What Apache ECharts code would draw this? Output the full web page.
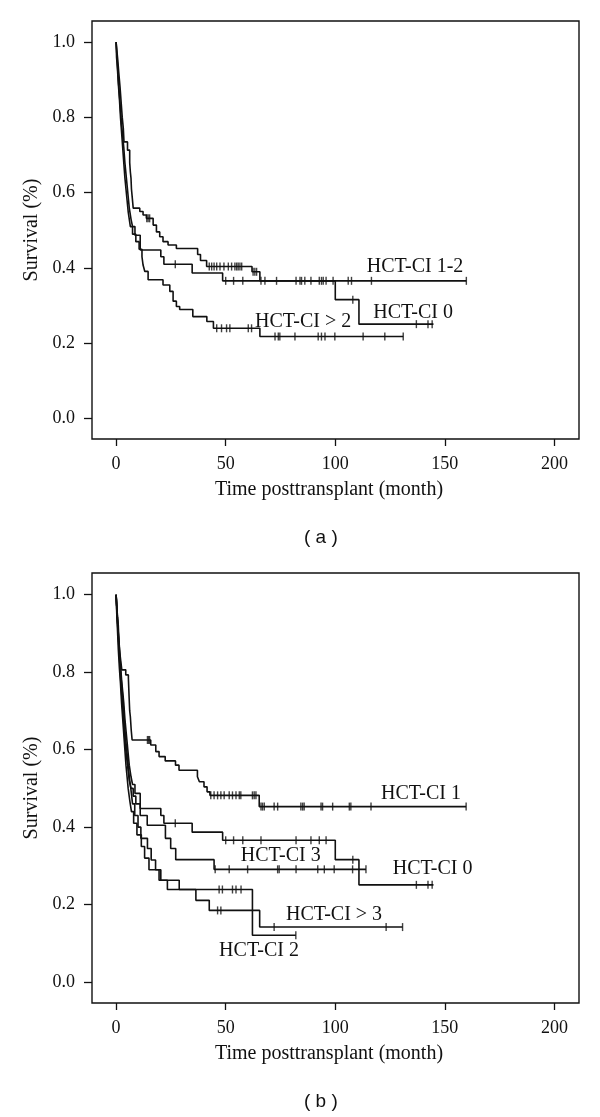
<!DOCTYPE html>
<html>
<head>
<meta charset="utf-8">
<script src="https://cdn.jsdelivr.net/npm/echarts@6/dist/echarts.min.js"></script>
<style>
html,body{margin:0;padding:0;background:#fff;}
#c{width:600px;height:1117px;}
</style>
</head>
<body>
<div id="c"></div>
<script>
// ---------- tick labels ----------
const xTicks = [0, 50, 100, 150, 200];
const yTicks = [0, 0.2, 0.4, 0.6, 0.8, 1.0];

// ---------- panel (a) ----------
// HCT-CI 1-2
const a12Time = [0, 0.3, 0.8, 1.2, 1.8, 2.3, 2.8, 3.3, 3.6, 5.2, 6.2, 6.5, 6.8, 7.0, 7.4, 7.8, 10.8, 12.3, 13.8, 16.9, 18.4, 19.9, 21.4, 23.7, 27.5, 37.2, 38.5, 41.3, 62, 65.6, 159.8];
const a12Surv = [1, 0.98, 0.95, 0.92, 0.88, 0.84, 0.80, 0.77, 0.735, 0.713, 0.68, 0.655, 0.638, 0.61, 0.585, 0.559, 0.550, 0.541, 0.532, 0.514, 0.496, 0.483, 0.470, 0.461, 0.452, 0.436, 0.42, 0.404, 0.39, 0.366, 0.366];
const a12Cens = [14.0, 14.6, 15.3, 42.5, 43.6, 44.7, 45.9, 47.4, 49.2, 51.2, 52.7, 54.2, 55, 55.7, 56.5, 57.3, 62.5, 63.3, 64.1, 67.9, 73.2, 83.9, 84.6, 86.1, 93.7, 94.5, 99, 105.9, 107.4, 116.5, 159.8];

// HCT-CI 0 (same group in both panels)
const c0Time = [0, 0.3, 0.6, 1.0, 1.5, 2.0, 2.5, 3.0, 3.5, 4.0, 4.5, 5.0, 5.5, 6.0, 6.8, 7.5, 8.6, 11.0, 20.4, 21.8, 34.7, 48.6, 100, 110.8, 144.8];
const c0Surv = [1, 0.97, 0.94, 0.90, 0.86, 0.82, 0.78, 0.75, 0.72, 0.68, 0.65, 0.62, 0.59, 0.56, 0.53, 0.51, 0.487, 0.448, 0.43, 0.41, 0.387, 0.366, 0.316, 0.251, 0.251];
const c0Cens = [27, 50, 53.6, 57.8, 66.1, 82.1, 88.9, 92.7, 95.8, 108, 137, 142.3, 144.2];

// HCT-CI > 2
const a3pTime = [0, 0.2, 0.6, 1.0, 1.5, 2.0, 2.5, 3.0, 3.5, 4.0, 4.5, 5.0, 5.5, 6.0, 6.5, 7.5, 9.0, 10.5, 11.8, 12.3, 13.1, 14.6, 21.4, 24.5, 26, 27.5, 29, 35, 41.4, 44.4, 65.6, 131];
const a3pSurv = [1, 0.96, 0.93, 0.89, 0.85, 0.80, 0.76, 0.72, 0.68, 0.64, 0.61, 0.58, 0.55, 0.53, 0.51, 0.49, 0.47, 0.45, 0.43, 0.408, 0.391, 0.369, 0.355, 0.338, 0.312, 0.298, 0.29, 0.271, 0.258, 0.24, 0.218, 0.218];
const a3pCens = [45.9, 48.1, 50.4, 51.9, 60.3, 61.8, 72.5, 74, 74.7, 81.6, 92.2, 93.7, 95.3, 99.8, 112.7, 122.6, 131];

// ---------- panel (b) ----------
// HCT-CI 1
const b1Time = [0, 0.3, 0.7, 1.0, 1.3, 1.7, 2.1, 2.6, 4.4, 5.6, 5.9, 6.2, 6.5, 6.9, 7.3, 15.8, 18.1, 19.6, 22.4, 27.1, 28.7, 37.1, 38.0, 40.1, 41.5, 42.8, 65.3, 159.7];
const b1Surv = [1, 0.97, 0.94, 0.92, 0.88, 0.85, 0.83, 0.806, 0.793, 0.785, 0.74, 0.70, 0.685, 0.65, 0.625, 0.612, 0.595, 0.582, 0.571, 0.56, 0.547, 0.530, 0.517, 0.504, 0.491, 0.482, 0.453, 0.453];
const b1Cens = [14.3, 14.8, 15.3, 43.2, 44.7, 46.3, 47.8, 49.3, 51.6, 53.1, 54.7, 56.2, 56.9, 62.2, 63, 63.8, 66.1, 66.8, 67.6, 72.1, 73.7, 84.3, 85.1, 85.8, 93.5, 94.2, 98.8, 106.4, 107.1, 116.3, 159.7];

// HCT-CI 3
const b3Time = [0, 0.3, 0.6, 1.0, 1.4, 1.8, 2.2, 2.7, 3.2, 3.7, 4.2, 4.8, 5.4, 6.0, 6.8, 7.8, 9.0, 11.0, 14.2, 22.5, 24.9, 27.2, 44.7, 114];
const b3Surv = [1, 0.97, 0.93, 0.89, 0.85, 0.81, 0.77, 0.73, 0.69, 0.65, 0.61, 0.58, 0.55, 0.52, 0.50, 0.48, 0.46, 0.43, 0.405, 0.371, 0.345, 0.316, 0.291, 0.291];
const b3Cens = [45.2, 51.6, 60, 73.7, 74.4, 82.1, 92, 95, 99.5, 107.9, 114];

// HCT-CI 2
const b2Time = [0, 0.3, 0.7, 1.0, 1.5, 2.0, 2.5, 3.0, 3.5, 4.0, 4.5, 5.0, 5.5, 6.2, 7.0, 8.0, 9.5, 11.5, 13.0, 15.0, 19.6, 23.4, 62.2, 82];
const b2Surv = [1, 0.95, 0.90, 0.86, 0.81, 0.77, 0.72, 0.68, 0.64, 0.60, 0.56, 0.53, 0.50, 0.47, 0.44, 0.41, 0.38, 0.35, 0.32, 0.29, 0.263, 0.239, 0.121, 0.121];
const b2Cens = [47, 48.5, 53.1, 54.7, 57, 82];

// HCT-CI > 3
const b4Time = [0, 0.3, 0.8, 1.2, 1.7, 2.2, 2.8, 3.3, 3.8, 4.3, 5.0, 5.5, 6.0, 6.7, 7.5, 8.5, 10.0, 11.3, 14.3, 16.0, 18.0, 20.4, 28.8, 36.4, 42.5, 65.5, 130.7];
const b4Surv = [1, 0.96, 0.92, 0.88, 0.83, 0.79, 0.75, 0.71, 0.67, 0.63, 0.59, 0.56, 0.53, 0.50, 0.46, 0.43, 0.40, 0.371, 0.345, 0.315, 0.29, 0.263, 0.239, 0.211, 0.185, 0.142, 0.142];
const b4Cens = [46.3, 47.8, 72.1, 123.2, 130.7];

// ---------- curve labels ----------
const aLabelText = ['HCT-CI 1-2', 'HCT-CI 0', 'HCT-CI > 2'];
const aLabelX = [114.4, 117.3, 63.4];
const aLabelY = [0.404, 0.280, 0.258];
const bLabelText = ['HCT-CI 1', 'HCT-CI 3', 'HCT-CI 0', 'HCT-CI > 3', 'HCT-CI 2'];
const bLabelX = [120.9, 56.9, 126.2, 77.5, 47];
const bLabelY = [0.485, 0.326, 0.293, 0.175, 0.080];

// ---------- build ----------
const INK = '#111';
const SERIF = '"Liberation Serif", "DejaVu Serif", serif';

function survAt(times, surv, t) {
  let v = surv[0];
  for (let i = 0; i < times.length; i++) { if (times[i] <= t) v = surv[i]; else break; }
  return v;
}
function km(times, surv, g) {
  return {
    type: 'line', xAxisIndex: g, yAxisIndex: g, step: 'end', symbol: 'none',
    data: times.map((t, i) => [t, surv[i]]),
    lineStyle: { color: INK, width: 1.6 }, silent: true, z: 2
  };
}
function cens(times, surv, ticks, g) {
  return {
    type: 'scatter', xAxisIndex: g, yAxisIndex: g, symbol: 'rect', symbolSize: [1.4, 8],
    data: ticks.map(t => [t, survAt(times, surv, t)]),
    itemStyle: { color: INK }, silent: true, z: 3
  };
}
function labels(xs, ys, texts, g) {
  return {
    type: 'custom', xAxisIndex: g, yAxisIndex: g, silent: true, clip: false, z: 4,
    data: xs.map((x, i) => [x, ys[i]]),
    renderItem: function (params, api) {
      const p = api.coord([api.value(0), api.value(1)]);
      return {
        type: 'text', x: p[0], y: p[1],
        style: { text: texts[params.dataIndex], fill: INK, font: '20px ' + SERIF, align: 'left', verticalAlign: 'middle' }
      };
    }
  };
}
function xAx(g) {
  return {
    type: 'value', gridIndex: g, min: -11, max: 211.2,
    name: 'Time posttransplant (month)', nameLocation: 'middle', nameGap: 41,
    nameTextStyle: { fontFamily: SERIF, fontSize: 20, color: INK, padding: [0, 13, 0, 0] },
    axisLine: { show: false, onZero: false },
    axisTick: { show: true, inside: false, length: 7, lineStyle: { color: INK, width: 1.3 }, customValues: xTicks },
    axisLabel: { show: true, margin: 16, fontFamily: SERIF, fontSize: 18, color: INK, customValues: xTicks },
    splitLine: { show: false }
  };
}
function yAx(g) {
  return {
    type: 'value', gridIndex: g, min: -0.054, max: 1.056,
    name: 'Survival (%)', nameLocation: 'middle', nameGap: 50,
    nameTextStyle: { fontFamily: SERIF, fontSize: 20, color: INK },
    axisLine: { show: false, onZero: false },
    axisTick: { show: true, inside: false, length: 8, lineStyle: { color: INK, width: 1.3 }, customValues: yTicks },
    axisLabel: { show: true, margin: 17, fontFamily: SERIF, fontSize: 18, color: INK, customValues: yTicks,
      formatter: v => Number(v).toFixed(1) },
    splitLine: { show: false }
  };
}

const chart = echarts.init(document.getElementById('c'), null, { renderer: 'canvas' });
chart.setOption({
  animation: false,
  backgroundColor: '#fff',
  title: [
    { text: '( a )', left: 304, top: 528, padding: 0, textStyle: { fontFamily: '"Liberation Sans", Arial, sans-serif', fontSize: 19, fontWeight: 'normal', color: INK } },
    { text: '( b )', left: 304, top: 1092, padding: 0, textStyle: { fontFamily: '"Liberation Sans", Arial, sans-serif', fontSize: 19, fontWeight: 'normal', color: INK } }
  ],
  grid: [
    { left: 92, top: 21, width: 487, height: 418, show: true, borderColor: INK, borderWidth: 1.4, backgroundColor: 'transparent' },
    { left: 92, top: 573, width: 487, height: 430, show: true, borderColor: INK, borderWidth: 1.4, backgroundColor: 'transparent' }
  ],
  xAxis: [xAx(0), xAx(1)],
  yAxis: [yAx(0), yAx(1)],
  series: [
    km(a12Time, a12Surv, 0), cens(a12Time, a12Surv, a12Cens, 0),
    km(c0Time, c0Surv, 0), cens(c0Time, c0Surv, c0Cens, 0),
    km(a3pTime, a3pSurv, 0), cens(a3pTime, a3pSurv, a3pCens, 0),
    labels(aLabelX, aLabelY, aLabelText, 0),
    km(b1Time, b1Surv, 1), cens(b1Time, b1Surv, b1Cens, 1),
    km(c0Time, c0Surv, 1), cens(c0Time, c0Surv, c0Cens, 1),
    km(b3Time, b3Surv, 1), cens(b3Time, b3Surv, b3Cens, 1),
    km(b2Time, b2Surv, 1), cens(b2Time, b2Surv, b2Cens, 1),
    km(b4Time, b4Surv, 1), cens(b4Time, b4Surv, b4Cens, 1),
    labels(bLabelX, bLabelY, bLabelText, 1)
  ]
});
</script>
</body>
</html>
